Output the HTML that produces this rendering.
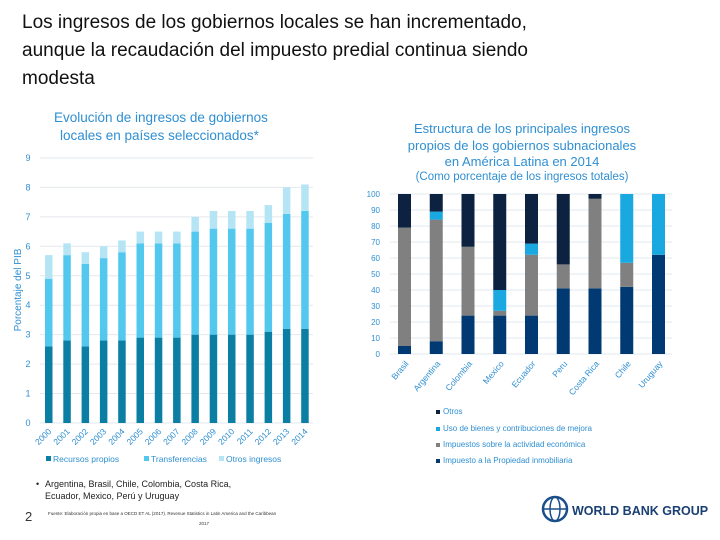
<!DOCTYPE html>
<html><head><meta charset="utf-8"><style>
body{margin:0;width:720px;height:540px;background:#fff;overflow:hidden;font-family:"Liberation Sans",sans-serif;}
svg{position:absolute;left:0;top:0}
</style></head><body>
<svg width="720" height="540" xmlns="http://www.w3.org/2000/svg" id="root">
<g font-size="19" fill="#111">
<text x="22" y="28">Los ingresos de los gobiernos locales se han incrementado,</text>
<text x="22" y="56">aunque la recaudación del impuesto predial continua siendo</text>
<text x="22" y="84">modesta</text>
</g>
<g font-size="13.5" fill="#2f8fd2">
<text x="54" y="122">Evolución de ingresos de gobiernos</text>
<text x="60" y="140">locales en países seleccionados*</text>
</g>
<text transform="translate(21,290) rotate(-90)" text-anchor="middle" font-size="10" fill="#2f8fd2">Porcentaje del PIB</text>
<g id="left"></g>
<g font-size="8.5" fill="#2f8fd2">
<rect x="46" y="456" width="5" height="5" fill="#0b7ea3"/><text x="53" y="462">Recursos propios</text>
<rect x="144" y="456" width="5" height="5" fill="#53c8ef"/><text x="146" y="462" dx="5">Transferencias</text>
<rect x="219" y="456" width="5" height="5" fill="#b5e5f5"/><text x="226" y="462">Otros ingresos</text>
</g>
<g font-size="13" fill="#2f8fd2" text-anchor="middle">
<text x="522" y="133">Estructura de los principales ingresos</text>
<text x="522" y="150">propios de los gobiernos subnacionales</text>
<text x="522" y="166">en América Latina en 2014</text>
<text x="522" y="180" font-size="11.5">(Como porcentaje de los ingresos totales)</text>
</g>
<g id="right"></g>
<g font-size="8" fill="#2f8fd2">
<rect x="436" y="410" width="4" height="4" fill="#0d2240"/><text x="443" y="414">Otros</text>
<rect x="436" y="427" width="4" height="4" fill="#19a9e0"/><text x="443" y="431">Uso de bienes y contribuciones de mejora</text>
<rect x="436" y="443" width="4" height="4" fill="#808080"/><text x="443" y="447">Impuestos sobre la actividad económica</text>
<rect x="436" y="459" width="4" height="4" fill="#013a73"/><text x="443" y="463">Impuesto a la Propiedad inmobiliaria</text>
</g>
<g font-size="9" fill="#222">
<text x="36" y="487">•</text>
<text x="45" y="487">Argentina, Brasil, Chile, Colombia, Costa Rica,</text>
<text x="45" y="499">Ecuador, Mexico, Perú y Uruguay</text>
</g>
<text x="25" y="521" font-size="13" fill="#333">2</text>
<g font-size="4.5" fill="#333">
<text x="48" y="515">Fuente: Elaboración propia en base a OECD ET AL (2017). Revenue Statistics in Latin America and the Caribbean</text>
<text x="199" y="525">2017</text>
</g>
<g>
<circle cx="555" cy="509" r="12" fill="none" stroke="#1a4f8a" stroke-width="2.5"/>
<ellipse cx="555" cy="509" rx="5" ry="12" fill="none" stroke="#1a4f8a" stroke-width="1.5"/>
<line x1="543" y1="509" x2="567" y2="509" stroke="#1a4f8a" stroke-width="1.5"/>
<text x="572" y="515" font-size="12.5" font-weight="bold" fill="#1a3f73">WORLD BANK GROUP</text>
</g>
</svg>
<script>
const years=["2000","2001","2002","2003","2004","2005","2006","2007","2008","2009","2010","2011","2012","2013","2014"];
const propios=[2.6,2.8,2.6,2.8,2.8,2.9,2.9,2.9,3.0,3.0,3.0,3.0,3.1,3.2,3.2];
const transfer=[2.3,2.9,2.8,2.8,3.0,3.2,3.2,3.2,3.5,3.6,3.6,3.6,3.7,3.9,4.0];
const otros=[0.8,0.4,0.4,0.4,0.4,0.4,0.4,0.4,0.5,0.6,0.6,0.6,0.6,0.9,0.9];
const yTicks=[0,1,2,3,4,5,6,7,8,9];
const countries=["Brasil","Argentina","Colombia","Mexico","Ecuador","Peru","Costa Rica","Chile","Uruguay"];
const propiedad=[5,8,24,24,24,41,41,42,62];
const actividad=[74,76,43,3,38,15,56,15,0];
const uso=[0,5,0,13,7,0,0,43,38];
const otrosR=[21,11,33,60,31,44,3,0,0];
const rTicks=[0,10,20,30,40,50,60,70,80,90,100];
const NS="http://www.w3.org/2000/svg";
function el(p,t,a){const e=document.createElementNS(NS,t);for(const k in a)e.setAttribute(k,a[k]);p.appendChild(e);return e;}
// left
const L=document.getElementById('left');
const ly=v=>423-v*29.45, lx=i=>45+i*18.3;
yTicks.forEach(t=>{
 const g=el(L,'line',{x1:40,x2:313,y1:ly(t),y2:ly(t),stroke:'#e3e8ec','stroke-width':1});
 
 
 const tx=el(L,'text',{x:28,y:ly(t)+3,'font-size':9,fill:'#2f8fd2','text-anchor':'middle'});tx.textContent=t;
 
 
});
years.forEach((y,i)=>{
 const segs=[[propios[i],'#0b7ea3','bar-recursos-propios'],[transfer[i],'#53c8ef','bar-transferencias'],[otros[i],'#b5e5f5','bar-otros-ingresos']];
 let b=0;
 segs.forEach(s=>{const r=el(L,'rect',{x:lx(i),y:ly(b+s[0]),width:7.5,height:ly(b)-ly(b+s[0]),fill:s[1]});
  
  
  b+=s[0];});
 const t=el(L,'text',{transform:`translate(${lx(i)+7},${432}) rotate(-45)`,'font-size':8.5,fill:'#2f8fd2','text-anchor':'end'});t.textContent=y;
 
 
});
// right
const R=document.getElementById('right');
const ry=v=>354-v*1.6, rx=i=>398+i*31.75;
rTicks.forEach(t=>{
 const g=el(R,'line',{x1:390,x2:672,y1:ry(t),y2:ry(t),stroke:'#e3e8ec','stroke-width':1});
 
 
 const tx=el(R,'text',{x:380,y:ry(t)+3,'font-size':8,fill:'#2f8fd2','text-anchor':'end'});tx.textContent=t;
 
 
});
countries.forEach((c,i)=>{
 const segs=[[propiedad[i],'#013a73','bar-propiedad'],[actividad[i],'#808080','bar-actividad'],[uso[i],'#19a9e0','bar-uso-bienes'],[otrosR[i],'#0d2240','bar-otros']];
 let b=0;
 segs.forEach(s=>{if(s[0]<=0)return;const r=el(R,'rect',{x:rx(i),y:ry(b+s[0]),width:13,height:ry(b)-ry(b+s[0]),fill:s[1]});
  
  
  b+=s[0];});
 const t=el(R,'text',{transform:`translate(${rx(i)+11},${364}) rotate(-50)`,'font-size':8.5,fill:'#2f8fd2','text-anchor':'end'});t.textContent=c;
 
 
});
</script>
</body></html>
